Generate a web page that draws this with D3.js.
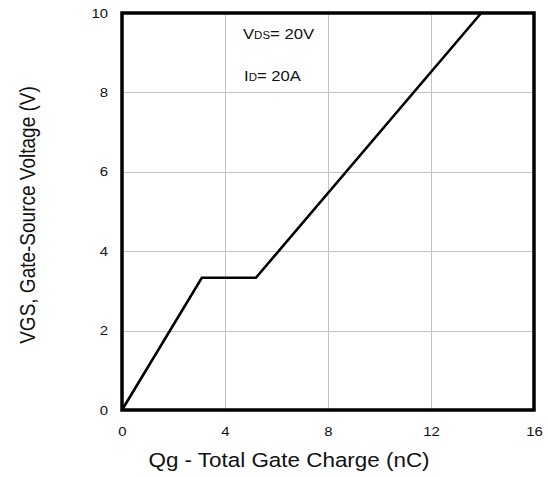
<!DOCTYPE html>
<html>
<head>
<meta charset="utf-8">
<script src="https://cdn.jsdelivr.net/npm/d3@7"></script>
<style>
  html, body { margin: 0; padding: 0; background: #fff; }
  svg { display: block; font-family: "Liberation Sans", Arial, sans-serif; }
</style>
</head>
<body>
<svg id="chart" width="548" height="477"></svg>
<script>
// Gate charge curve: Qg (nC) vs VGS (V)
const qg = [0, 3.1, 5.2, 13.95];
const vgs = [0, 3.33, 3.33, 10];
const xTicks = [0, 4, 8, 12, 16];
const yTicks = [0, 2, 4, 6, 8, 10];

const stretch = 1.15; // text is set slightly wide

const svg = d3.select("#chart");
const x = d3.scaleLinear().domain([0, 16]).range([122, 534]);
const y = d3.scaleLinear().domain([0, 10]).range([410, 13]);

// grid
const grid = svg.append("g").attr("stroke", "#c4c4c4").attr("stroke-width", 1);
grid.selectAll("line.gx").data(xTicks.slice(1, -1)).join("line")
  .attr("x1", d => Math.round(x(d)) + 0.5).attr("x2", d => Math.round(x(d)) + 0.5)
  .attr("y1", y(10)).attr("y2", y(0));
grid.selectAll("line.gy").data(yTicks.slice(1, -1)).join("line")
  .attr("y1", d => Math.round(y(d)) + 0.5).attr("y2", d => Math.round(y(d)) + 0.5)
  .attr("x1", x(0)).attr("x2", x(16));

// curve
const line = d3.line().x((d, i) => x(qg[i])).y((d, i) => y(vgs[i]));
svg.append("path").datum(qg)
  .attr("d", line)
  .attr("fill", "none").attr("stroke", "#000").attr("stroke-width", 2.6)
  .attr("stroke-linejoin", "miter");

// frame
svg.append("rect")
  .attr("x", x(0)).attr("y", y(10))
  .attr("width", x(16) - x(0)).attr("height", y(0) - y(10))
  .attr("fill", "none").attr("stroke", "#000").attr("stroke-width", 3.5);

// axes (labels only)
const xAxis = d3.axisBottom(x).tickValues(xTicks).tickSize(0).tickPadding(17);
const gx = svg.append("g").attr("transform", `translate(0,${y(0)})`).call(xAxis);
const yAxis = d3.axisLeft(y).tickValues(yTicks).tickSize(0).tickPadding(14);
const gy = svg.append("g").attr("transform", `translate(${x(0)},0)`).call(yAxis);
[gx, gy].forEach(g => {
  g.select(".domain").remove();
  g.selectAll("text").attr("font-size", 13).attr("fill", "#111")
    .attr("font-family", "Liberation Sans, Arial, sans-serif")
    .attr("transform", `scale(${stretch},1)`);
});
gy.selectAll("text").attr("x", -14 / stretch);

// axis titles
svg.append("text")
  .attr("transform", `translate(289,467) scale(${stretch},1)`)
  .attr("text-anchor", "middle").attr("font-size", 19.5).attr("fill", "#111")
  .text("Qg - Total Gate Charge (nC)");
svg.append("text")
  .attr("transform", `translate(35,215) scale(${stretch},1) rotate(-90)`)
  .attr("text-anchor", "middle").attr("font-size", 19).attr("fill", "#111")
  .text("VGS, Gate-Source Voltage (V)");

// test conditions
const t1 = svg.append("text").attr("transform", `translate(243,39) scale(${stretch},1)`)
  .attr("font-size", 14.5).attr("fill", "#111");
t1.append("tspan").text("V");
t1.append("tspan").attr("font-size", 10).text("DS");
t1.append("tspan").text("= 20V");
const t2 = svg.append("text").attr("transform", `translate(244,81) scale(${stretch},1)`)
  .attr("font-size", 14.5).attr("fill", "#111");
t2.append("tspan").text("I");
t2.append("tspan").attr("font-size", 10).text("D");
t2.append("tspan").text("= 20A");
</script>
</body>
</html>
